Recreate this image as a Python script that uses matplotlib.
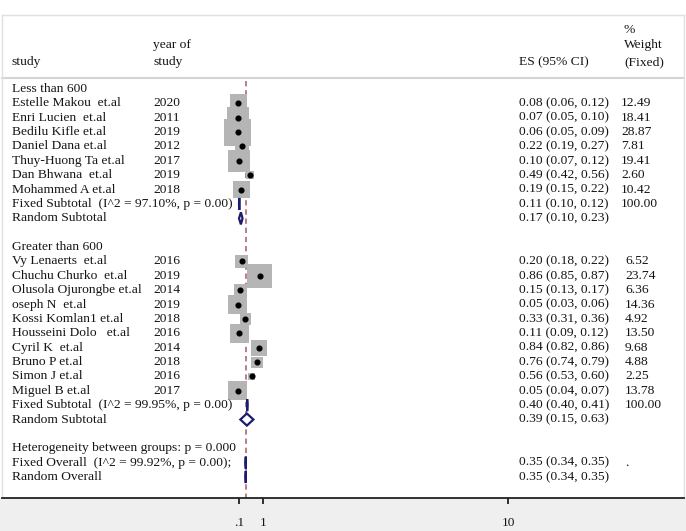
import numpy as np
import matplotlib
matplotlib.use('Agg')
import matplotlib.pyplot as plt
from matplotlib.patches import Polygon, Rectangle

plt.rcParams['font.family'] = ['Liberation Serif', 'DejaVu Serif']

# subgroup: sample size < 600
g1_study = ['Estelle Makou  et.al', 'Enri Lucien  et.al', 'Bedilu Kifle et.al',
            'Daniel Dana et.al', 'Thuy-Huong Ta et.al', 'Dan Bhwana  et.al',
            'Mohammed A et.al']
g1_year = ['2020', '2011', '2019', '2012', '2017', '2019', '2018']
g1_es = [0.08, 0.07, 0.06, 0.22, 0.10, 0.49, 0.19]
g1_lo = [0.06, 0.05, 0.05, 0.19, 0.07, 0.42, 0.15]
g1_hi = [0.12, 0.10, 0.09, 0.27, 0.12, 0.56, 0.22]
g1_w = [12.49, 18.41, 28.87, 7.81, 19.41, 2.60, 10.42]

# subgroup: sample size > 600
g2_study = ['Vy Lenaerts  et.al', 'Chuchu Churko  et.al', 'Olusola Ojurongbe et.al',
            'oseph N  et.al', 'Kossi Komlan1 et.al', 'Housseini Dolo   et.al',
            'Cyril K  et.al', 'Bruno P et.al', 'Simon J et.al', 'Miguel B et.al']
g2_year = ['2016', '2019', '2014', '2019', '2018', '2016', '2014', '2018', '2016', '2017']
g2_es = [0.20, 0.86, 0.15, 0.05, 0.33, 0.11, 0.84, 0.76, 0.56, 0.05]
g2_lo = [0.18, 0.85, 0.13, 0.03, 0.31, 0.09, 0.82, 0.74, 0.53, 0.04]
g2_hi = [0.22, 0.87, 0.17, 0.06, 0.36, 0.12, 0.86, 0.79, 0.60, 0.07]
g2_w = [6.52, 23.74, 6.36, 14.36, 4.92, 13.50, 9.68, 4.88, 2.25, 13.78]

# pooled estimates (es, lo, hi)
g1_fixed = (0.11, 0.10, 0.12)
g1_random = (0.17, 0.10, 0.23)
g2_fixed = (0.40, 0.40, 0.41)
g2_random = (0.39, 0.15, 0.63)
all_fixed = (0.35, 0.34, 0.35)
all_random = (0.35, 0.34, 0.35)

g1_fixed_lab = 'Fixed Subtotal  (I^2 = 97.10%, p = 0.00)'
g2_fixed_lab = 'Fixed Subtotal  (I^2 = 99.95%, p = 0.00)'
het_lab = 'Heterogeneity between groups: p = 0.000'
all_fixed_lab = 'Fixed Overall  (I^2 = 99.92%, p = 0.00);'

xticks = [0.1, 1, 10]
xticklabels = ['.1', '1', '10']

W, H = 686, 531
fig = plt.figure(figsize=(W / 100, H / 100), dpi=100, facecolor='white')
fig.patches.append(Rectangle((0, 0), 1, 33 / H, transform=fig.transFigure,
                             facecolor='#efefef', edgecolor='none', zorder=-1))
ax = fig.add_axes([2 / W, 33 / H, 682 / W, 483 / H])

x0 = 0.1 - (239 - 2) / 27.2
x1 = 0.1 + (684 - 239) / 27.2
ax.set_xlim(x0, x1)
ax.set_ylim(28.46, -5.15)

tr = ax.get_yaxis_transform()
def col(px):
    return (px - 2) / 682

fs = 9.7
tc = '#141414'

def txt(px, row, s):
    ax.text(col(px), row, s, transform=tr, fontsize=fs, color=tc,
            va='center', ha='left')

# header
txt(12, -1.88, 'study')
txt(153, -3.06, 'year of')
txt(153, -1.88, 'study')
txt(519, -1.88, 'ES (95% CI)')
txt(624, -4.1, '%')
txt(624, -3.06, 'Weight')
txt(624, -1.88, '(Fixed)')
ax.plot([0, 1], [-0.77, -0.77], transform=tr, color='#d4d4d4', lw=1.5,
        clip_on=False)

box_col = '#b5b5b5'
navy = '#1c1c6e'

def fmt(es, lo, hi):
    return '%.2f (%.2f, %.2f)' % (es, lo, hi)

def diamond(row, est, h=0.42):
    es, lo, hi = est
    pts = [(lo, row), (es, row - h), (hi, row), (es, row + h)]
    ax.add_patch(Polygon(pts, closed=True, facecolor='white',
                         edgecolor=navy, lw=1.6, zorder=4))

def group(start, title, names, years, es, lo, hi, w, wpx, fixed, fixed_lab, random):
    txt(12, start, title)
    rows = start + 1 + np.arange(len(names))
    for r, n, yr, e, l, h, ww in zip(rows, names, years, es, lo, hi, w):
        txt(12, r, n)
        txt(153, r, yr)
        txt(519, r, fmt(e, l, h))
        txt(wpx, r, '%.2f' % ww)
        ax.plot([l, h], [r, r], color='black', lw=0.8, zorder=3)
    ax.scatter(es, rows, s=13.1 * np.array(w), marker='s', color=box_col,
               edgecolors='none', zorder=2)
    ax.plot(es, rows, 'o', color='black', ms=3.4, zorder=3)
    rf = rows[-1] + 1
    txt(12, rf, fixed_lab)
    txt(519, rf, fmt(*fixed))
    txt(wpx, rf, '100.00')
    diamond(rf, fixed)
    txt(12, rf + 1, 'Random Subtotal')
    txt(519, rf + 1, fmt(*random))
    diamond(rf + 1, random)
    return rf + 1

end1 = group(0, 'Less than 600', g1_study, g1_year, g1_es, g1_lo, g1_hi, g1_w,
             621, g1_fixed, g1_fixed_lab, g1_random)
end2 = group(end1 + 2, 'Greater than 600', g2_study, g2_year, g2_es, g2_lo, g2_hi,
             g2_w, 625, g2_fixed, g2_fixed_lab, g2_random)

r = end2 + 2
txt(12, r, het_lab)
txt(12, r + 1, all_fixed_lab)
txt(519, r + 1, fmt(*all_fixed))
txt(625, r + 1, '.')
diamond(r + 1, all_fixed)
txt(12, r + 2, 'Random Overall')
txt(519, r + 2, fmt(*all_random))
diamond(r + 2, all_random)

# line at the overall estimate
ax.plot([all_fixed[0]] * 2, [-0.55, 28.46], color='#a85a66', lw=1.1,
        ls=(0, (3.5, 2.5)), zorder=1)

for s in ['left', 'right', 'top']:
    ax.spines[s].set_color('#e0e0e0')
    ax.spines[s].set_linewidth(1.0)
ax.spines['bottom'].set_color('#222222')
ax.spines['bottom'].set_linewidth(1.3)
ax.set_yticks([])
ax.set_xticks(xticks)
ax.set_xticklabels(xticklabels, fontsize=9.6, color=tc)
ax.tick_params(axis='x', direction='out', length=4, width=1.3, pad=10,
               color='#222222')

fig.savefig('out.png', dpi=100, facecolor=fig.get_facecolor())
